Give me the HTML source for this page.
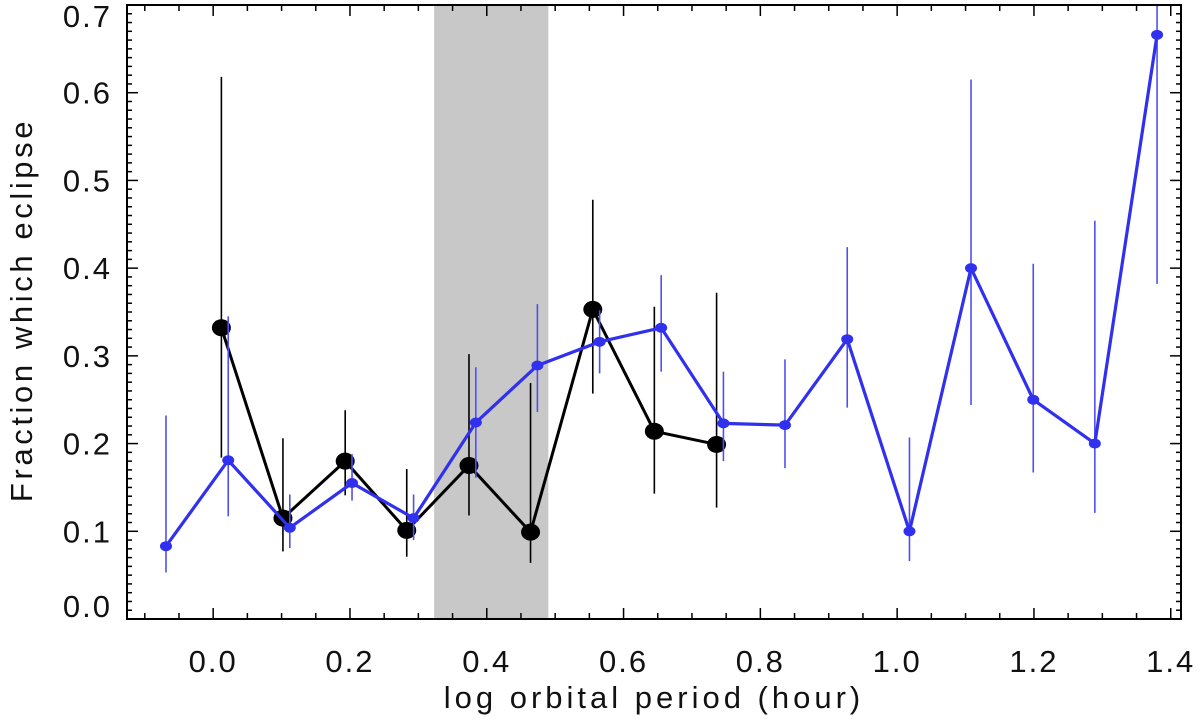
<!DOCTYPE html>
<html><head><meta charset="utf-8"><style>
html,body{margin:0;padding:0;background:#fff;}
svg{display:block;}
text{font-family:"Liberation Sans",sans-serif;fill:#111;}
</style></head><body>
<svg id="chart" width="1200" height="726" viewBox="0 0 1200 726" xmlns="http://www.w3.org/2000/svg">
<g id="band"></g>
<g id="series"></g>
<g id="axes"></g>
<text x="654" y="708" font-size="31" letter-spacing="4" text-anchor="middle">log orbital period (hour)</text>
<text transform="translate(32,310) rotate(-90)" font-size="31" letter-spacing="3.6" text-anchor="middle">Fraction which eclipse</text>
</svg>
<script>
const xTicks=[0.0,0.2,0.4,0.6,0.8,1.0,1.2,1.4];
const xTickLabels=["0.0","0.2","0.4","0.6","0.8","1.0","1.2","1.4"];
const yTicks=[0.0,0.1,0.2,0.3,0.4,0.5,0.6,0.7];
const yTickLabels=["0.0","0.1","0.2","0.3","0.4","0.5","0.6","0.7"];
const band=[0.323,0.49];
const blackX=[0.012,0.102,0.193,0.283,0.374,0.464,0.555,0.645,0.736];
const blackY=[0.332,0.115,0.180,0.101,0.175,0.099,0.353,0.214,0.199];
const blackHi=[0.618,0.206,0.238,0.171,0.302,0.269,0.478,0.356,0.372];
const blackLo=[0.184,0.077,0.141,0.071,0.118,0.064,0.257,0.143,0.127];
const blueX=[-0.069,0.022,0.112,0.203,0.293,0.384,0.474,0.565,0.655,0.746,0.836,0.927,1.018,1.108,1.199,1.289,1.380];
const blueY=[0.083,0.181,0.104,0.155,0.115,0.224,0.289,0.316,0.332,0.223,0.221,0.319,0.100,0.400,0.250,0.200,0.666];
const blueHi=[0.232,0.345,0.142,0.188,0.142,0.287,0.359,0.352,0.392,0.282,0.296,0.424,0.207,0.615,0.405,0.454,0.72];
const blueLo=[0.053,0.117,0.081,0.135,0.090,0.161,0.236,0.280,0.282,0.180,0.172,0.241,0.066,0.244,0.167,0.121,0.382];

const L=127,R=1181,T=5,B=619;
const xMin=-0.126,xMax=1.415,yMin=0,yMax=0.7;
const sx=v=>L+(v-xMin)/(xMax-xMin)*(R-L);
const sy=v=>B-(v-yMin)/(yMax-yMin)*(B-T);
const NS='http://www.w3.org/2000/svg';
function mk(tag,parent,attrs){const e=document.createElementNS(NS,tag);for(const k in attrs)e.setAttribute(k,attrs[k]);parent.appendChild(e);return e;}

const bandG=document.getElementById('band');
const rect=mk('rect',bandG,{x:sx(band[0]),y:T,width:sx(band[1])-sx(band[0]),height:B-T,fill:'#c8c8c8'});



const sg=document.getElementById('series');
function drawSeries(xs,ys,lo,hi,color,ebColor,lw,r,name){
  const g=mk('g',sg,{});
  
  
  for(let i=0;i<xs.length;i++){
    const top=Math.min(hi[i],yMax);
    const eb=mk('line',g,{x1:sx(xs[i]),x2:sx(xs[i]),y1:sy(top),y2:sy(lo[i]),stroke:ebColor,'stroke-width':1.6});
    
    
  }
  const pts=xs.map((x,i)=>sx(x)+','+sy(ys[i])).join(' ');
  const pl=mk('polyline',g,{points:pts,fill:'none',stroke:color,'stroke-width':lw,'stroke-linejoin':'miter'});
  
  
  for(let i=0;i<xs.length;i++){
    const c=mk('ellipse',g,{cx:sx(xs[i]),cy:sy(ys[i]),rx:r+1,ry:r,fill:color});
    
    
  }
}
drawSeries(blackX,blackY,blackLo,blackHi,'#000','#000',3,8.5,'black');
drawSeries(blueX,blueY,blueLo,blueHi,'#3030ee','#5050f0',3.2,5,'blue');

const ax=document.getElementById('axes');
const frame=mk('rect',ax,{x:L,y:T,width:R-L,height:B-T,fill:'none',stroke:'#000','stroke-width':2});


for(let v=-0.1;v<=1.4001;v+=0.05){
  const vv=Math.round(v*100)/100;
  const major=Math.abs(Math.round(vv/0.2)*0.2-vv)<1e-6;
  const len=major?11:6;const x=sx(vv);
  const t1=mk('line',ax,{x1:x,x2:x,y1:B,y2:B-len,stroke:'#000','stroke-width':1.5});
  
  
  const t2=mk('line',ax,{x1:x,x2:x,y1:T,y2:T+len,stroke:'#000','stroke-width':1.5});
  
  
}
xTicks.forEach((v,i)=>{
  const t=mk('text',ax,{x:sx(v),y:672,'font-size':31,'letter-spacing':2,'text-anchor':'middle'});
  t.textContent=xTickLabels[i];
  
  
});
for(let k=0;k<=70;k++){
  const v=k/100;const major=k%10===0;const len=major?11:5;const y=sy(v);
  const t1=mk('line',ax,{x1:L,x2:L+len,y1:y,y2:y,stroke:'#000','stroke-width':1.5});
  
  
  const t2=mk('line',ax,{x1:R,x2:R-len,y1:y,y2:y,stroke:'#000','stroke-width':1.5});
  
  
}
yTicks.forEach((v,i)=>{
  let y=sy(v)+11;
  if(i===0)y=sy(v)-2;
  if(i===yTicks.length-1)y=sy(v)+22;
  const t=mk('text',ax,{x:112,y:y,'font-size':31,'letter-spacing':2,'text-anchor':'end'});
  t.textContent=yTickLabels[i];
  
  
});
</script>
</body></html>
